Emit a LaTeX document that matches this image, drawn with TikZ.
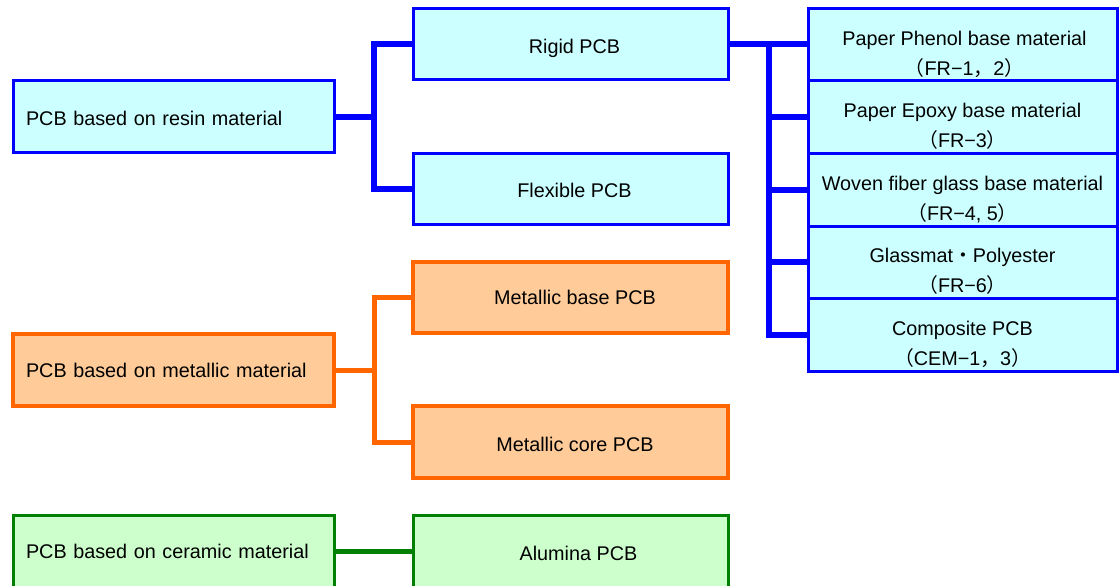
\documentclass[tikz,border=0pt]{standalone}
\usepackage{fontspec}
\setmainfont{Liberation Sans}
\newfontfamily\cjk{Noto Sans CJK JP}
\definecolor{pcbblue}{HTML}{0000FF}
\definecolor{pcbcyan}{HTML}{CCFFFF}
\definecolor{pcborange}{HTML}{FF6600}
\definecolor{pcbpeach}{HTML}{FFCC99}
\definecolor{pcbgreen}{HTML}{008000}
\definecolor{pcbmint}{HTML}{CCFFCC}
\newcommand{\lowerby}[2]{\raisebox{-#1}[\height][\depth]{#2}}
\begin{document}
\begin{tikzpicture}[x=1pt,y=-1pt,
  font=\fontsize{19.8}{30}\selectfont,
  box/.style={draw, inner sep=0pt, minimum height=71pt},
  lbox/.style={box, minimum width=321pt, text width=295pt, align=left, inner xsep=13pt},
  mbox/.style={box, minimum width=315pt},
  rbox/.style={box, minimum width=309pt, minimum height=72.5pt},
  bluek/.style={draw=pcbblue, fill=pcbcyan, line width=3pt},
  orangek/.style={draw=pcborange, fill=pcbpeach, line width=3.5pt},
  greenk/.style={draw=pcbgreen, fill=pcbmint, line width=3pt},
  rtext/.style={align=center, inner sep=0pt},
  bluec/.style={draw=pcbblue, line width=6pt, line join=miter},
  orangec/.style={draw=pcborange, line width=5pt, line join=miter},
  greenc/.style={draw=pcbgreen, line width=5pt}]
\useasboundingbox (0,0) rectangle (1120,586);
\clip (0,0) rectangle (1120,586);

% left column
\node[lbox, bluek] (resin) at (173.5,116.5) {\lowerby{1.5pt}{PCB based on resin material}};
\node[lbox, orangek, minimum height=72pt] (metal) at (173.5,370) {PCB based on metallic material};
\node[lbox, greenk, minimum height=72pt] (ceram) at (173.5,551) {PCB based on ceramic material};

% middle column
\node[mbox, bluek] (rigid) at (570.5,44) {\hspace*{8pt}\lowerby{4pt}{Rigid PCB}};
\node[mbox, bluek] (flex) at (570.5,189) {\hspace*{8pt}\lowerby{1.5pt}{Flexible PCB}};
\node[mbox, orangek] (mbase) at (570.5,297.5) {\hspace*{9pt}Metallic base PCB};
\node[mbox, orangek, minimum height=72pt] (mcore) at (570.5,442) {\hspace*{9pt}\lowerby{2.5pt}{Metallic core PCB}};
\node[mbox, greenk, minimum height=72pt] (alum) at (570.5,551) {\hspace*{16pt}\lowerby{2.5pt}{Alumina PCB}};

% right column
\node[rbox, bluek] (p1) at (962.5,44.75) {};
\node[rbox, bluek] (p2) at (962.5,117.25) {};
\node[rbox, bluek] (p3) at (962.5,189.75) {};
\node[rbox, bluek] (p4) at (962.5,262.25) {};
\node[rbox, bluek] (p5) at (962.5,334.75) {};
\node[rtext] (t1) at ([xshift=2pt,yshift=-9.5pt]p1.center) {Paper Phenol base material\\{\cjk（}FR−1{\cjk，}2{\cjk）}};
\node[rtext] (t2) at ([xshift=0pt,yshift=-9.5pt]p2.center) {Paper Epoxy base material\\{\cjk（}FR−3{\cjk）}};
\node[rtext] (t3) at ([xshift=0pt,yshift=-9.5pt]p3.center) {Woven fiber glass base material\\{\cjk（}FR−4, 5{\cjk）}};
\node[rtext] (t4) at ([xshift=0pt,yshift=-9.5pt]p4.center) {Glassmat{\cjk・}Polyester\\{\cjk（}FR−6{\cjk）}};
\node[rtext] (t5) at ([xshift=0pt,yshift=-9.5pt]p5.center) {Composite PCB\\{\cjk（}CEM−1{\cjk，}3{\cjk）}};

% blue connectors
\coordinate (bj) at (374,0);
\draw[bluec] (resin.east) -- (resin.east -| bj);
\draw[bluec] (rigid.west) -- (rigid.west -| bj) |- (flex.west);
\coordinate (rj) at (769,0);
\draw[bluec] (rigid.east) -- (rigid.east -| p1.west);
\draw[bluec] (rigid.east -| rj) |- (p5.west);
\foreach \p in {p2,p3,p4} \draw[bluec] (\p.west -| rj) -- (\p.west);

% orange connectors
\draw[orangec] (metal.east) -- (metal.east -| bj);
\draw[orangec] (mbase.west) -- (mbase.west -| bj) |- (mcore.west);

% green connector
\draw[greenc] (ceram.east) -- (alum.west);
\end{tikzpicture}
\end{document}
